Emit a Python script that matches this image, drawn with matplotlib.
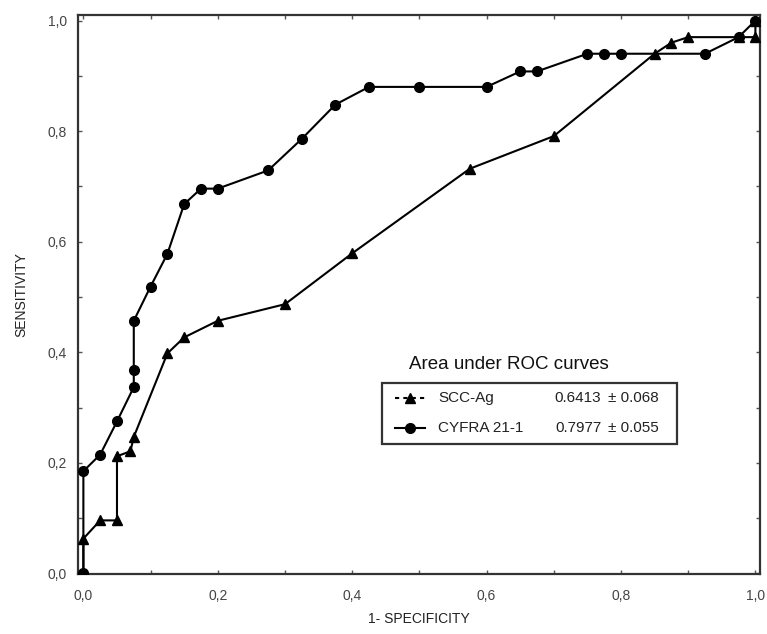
import matplotlib
matplotlib.use("Agg")
import matplotlib.pyplot as plt
from matplotlib.lines import Line2D
from matplotlib.patches import Rectangle
from matplotlib.ticker import MultipleLocator, FuncFormatter

plt.rcParams['font.family'] = ['Liberation Sans', 'DejaVu Sans']

# SCC-Ag ROC curve (1 - specificity, sensitivity)
scc_fpr = [0.0, 0.0, 0.025, 0.05, 0.05, 0.07, 0.075, 0.125, 0.15, 0.2, 0.3,
           0.4, 0.575, 0.7, 0.85, 0.875, 0.9, 0.975, 1.0, 1.0]
scc_tpr = [0.0, 0.063, 0.096, 0.096, 0.212, 0.221, 0.247, 0.398, 0.427, 0.457, 0.487,
           0.579, 0.732, 0.791, 0.94, 0.96, 0.97, 0.97, 0.97, 1.0]

# CYFRA 21-1 ROC curve
cyfra_fpr = [0.0, 0.0, 0.025, 0.05, 0.075, 0.075, 0.075, 0.1, 0.125, 0.15, 0.175,
             0.2, 0.275, 0.325, 0.375, 0.425, 0.5, 0.6, 0.65, 0.675, 0.75, 0.775,
             0.8, 0.925, 0.975, 1.0]
cyfra_tpr = [0.0, 0.185, 0.215, 0.275, 0.337, 0.368, 0.457, 0.519, 0.578, 0.668, 0.696,
             0.696, 0.729, 0.786, 0.848, 0.88, 0.88, 0.88, 0.908, 0.908, 0.94, 0.94,
             0.94, 0.94, 0.97, 1.0]

names = ['SCC-Ag', 'CYFRA 21-1']
auc = ['0.6413', '0.7977']
auc_se = ['0.068', '0.055']

fig = plt.figure(figsize=(7.67, 6.34), dpi=100)
ax = fig.add_axes([0.1017, 0.0946, 0.8893, 0.8817])

ax.plot(scc_fpr, scc_tpr, color='black', lw=1.5, marker='^', ms=6.5, zorder=3)
ax.plot(cyfra_fpr, cyfra_tpr, color='black', lw=1.5, marker='o', ms=7, zorder=3)

ax.set_xlim(-0.008, 1.007)
ax.set_ylim(-0.001, 1.01)

fmt = FuncFormatter(lambda v, p: f'{v:.1f}'.replace('.', ','))
for axis in (ax.xaxis, ax.yaxis):
    axis.set_major_locator(MultipleLocator(0.2))
    axis.set_minor_locator(MultipleLocator(0.1))
    axis.set_major_formatter(fmt)
ax.tick_params(which='both', direction='in', top=True, right=True,
               length=3, width=1, color='#555555')
ax.tick_params(axis='x', which='major', pad=11, labelsize=10, labelcolor='#444444')
ax.tick_params(axis='y', which='major', pad=8, labelsize=10, labelcolor='#444444')

for s in ax.spines.values():
    s.set_linewidth(1.6)
    s.set_color('#333333')

ax.set_xlabel('1- SPECIFICITY', fontsize=10, color='#222222', labelpad=6)
ax.set_ylabel('SENSITIVITY', fontsize=10, color='#222222', labelpad=14)

# legend box with AUC values
ax.text(0.632, 0.374, 'Area under ROC curves', transform=ax.transAxes,
        fontsize=13.5, ha='center', va='center', color='#111111')
ax.add_patch(Rectangle((0.446, 0.2326), 0.432, 0.109, transform=ax.transAxes,
                       fill=False, lw=1.6, ec='#333333', zorder=4))
rows_y = [0.315, 0.261]
styles = [dict(marker='^', ms=6.5, ls=(0, (2, 2))), dict(marker='o', ms=7, ls='-')]
for name, a, se, y, st in zip(names, auc, auc_se, rows_y, styles):
    ax.add_line(Line2D([0.465, 0.509], [y, y], transform=ax.transAxes,
                       color='black', lw=1.5, ls=st['ls']))
    ax.add_line(Line2D([0.487], [y], transform=ax.transAxes, color='black',
                       marker=st['marker'], ms=st['ms'], ls='none'))
    ax.text(0.528, y, name, transform=ax.transAxes, fontsize=11, va='center',
            color='#222222')
    ax.text(0.767, y, a, transform=ax.transAxes, fontsize=11, va='center', ha='right',
            color='#222222')
    ax.text(0.777, y, '\u00b1 ' + se, transform=ax.transAxes, fontsize=11, va='center',
            color='#222222')

fig.savefig('out.png', dpi=100)
